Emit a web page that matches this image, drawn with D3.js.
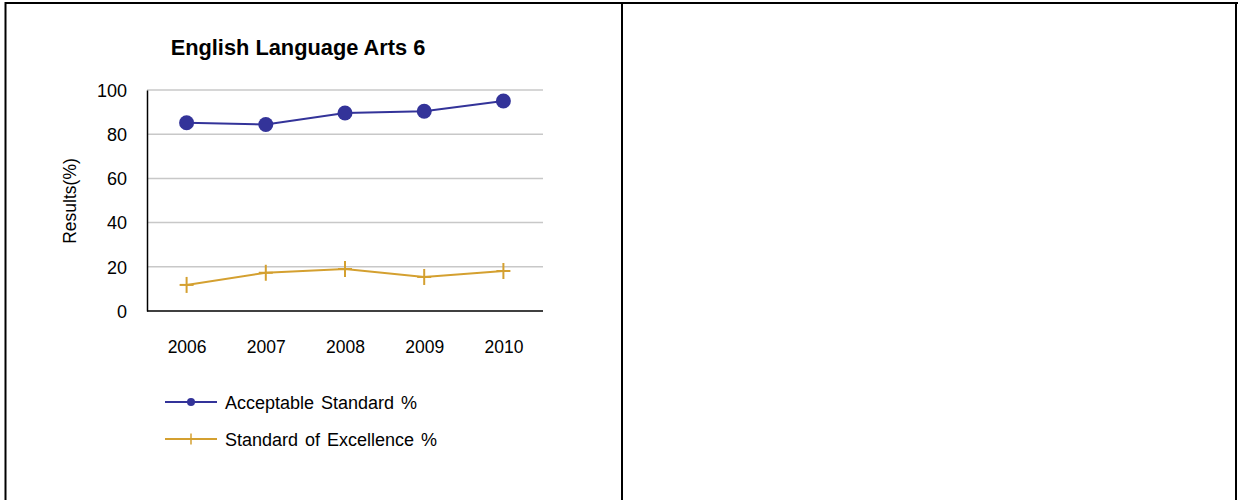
<!DOCTYPE html>
<html><head><meta charset="utf-8">
<script src="https://cdn.jsdelivr.net/npm/d3@7"></script>
<style>
body{margin:0;background:#fff;}
svg{display:block;font-family:"Liberation Sans",Arial,sans-serif;}
</style></head>
<body>
<svg id="c" width="1238" height="500"></svg>
<script>
const title = "English Language Arts 6";
const yLabel = "Results(%)";
const years = ["2006","2007","2008","2009","2010"];
const acceptable = [85.2, 84.4, 89.6, 90.4, 95.0];
const excellence = [11.8, 17.3, 19.0, 15.4, 18.1];
const yTicks = [0,20,40,60,80,100];
const seriesNames = ["Acceptable Standard %","Standard of Excellence %"];
const colors = ["#333399","#D4A030"];

const svg = d3.select("#c");
// table frame
svg.append("line").attr("x1",5).attr("x2",1238).attr("y1",3).attr("y2",3).attr("stroke","#000").attr("stroke-width",2);
svg.append("line").attr("x1",5.5).attr("x2",5.5).attr("y1",2).attr("y2",500).attr("stroke","#000").attr("stroke-width",2);
svg.append("line").attr("x1",622).attr("x2",622).attr("y1",2).attr("y2",500).attr("stroke","#000").attr("stroke-width",2);
svg.append("line").attr("x1",1236).attr("x2",1236).attr("y1",2).attr("y2",500).attr("stroke","#000").attr("stroke-width",2);

const L=147, R=543, T=90, B=311;
const x = d3.scalePoint().domain(years).range([L,R]).padding(0.5);
const y = d3.scaleLinear().domain([0,100]).range([B,T]);

// title
svg.append("text").attr("x",298).attr("y",55).attr("text-anchor","middle")
  .attr("font-size",21.8).attr("font-weight","bold").attr("fill","#000").text(title);

// gridlines
svg.append("g").selectAll("line").data(yTicks.filter(d=>d>0)).join("line")
  .attr("x1",L).attr("x2",R).attr("y1",d=>y(d)).attr("y2",d=>y(d))
  .attr("stroke","#c8c8c8").attr("stroke-width",1.5);

// y axis
const ya = svg.append("g").attr("transform",`translate(${L},0)`)
  .call(d3.axisLeft(y).tickValues(yTicks).tickSize(0).tickPadding(20));
ya.select(".domain").attr("stroke","#000").attr("stroke-width",1.5);
ya.selectAll("text").attr("font-size",18).attr("fill","#000").attr("font-family","Liberation Sans, Arial, sans-serif").attr("dy","0.35em");

// x axis
const xa = svg.append("g").attr("transform",`translate(0,${B})`)
  .call(d3.axisBottom(x).tickSize(0).tickPadding(30));
xa.select(".domain").attr("stroke","#000").attr("stroke-width",1.5).attr("d",`M${L},0H${R}`);
xa.selectAll("text").attr("font-size",17.5).attr("fill","#000").attr("font-family","Liberation Sans, Arial, sans-serif");

// y label
svg.append("text").attr("transform","translate(76,201) rotate(-90)").attr("text-anchor","middle")
  .attr("font-size",17.5).attr("fill","#000").text(yLabel);

const line = d3.line().x((d,i)=>x(years[i])).y(d=>y(d));
svg.append("path").datum(acceptable).attr("d",line).attr("fill","none").attr("stroke",colors[0]).attr("stroke-width",2);
svg.append("path").datum(excellence).attr("d",line).attr("fill","none").attr("stroke",colors[1]).attr("stroke-width",2);

svg.append("g").selectAll("circle").data(acceptable).join("circle")
  .attr("cx",(d,i)=>x(years[i])).attr("cy",d=>y(d)).attr("r",7.5).attr("fill",colors[0]);

const crossG = svg.append("g").selectAll("g").data(excellence).join("g")
  .attr("transform",(d,i)=>`translate(${x(years[i])},${y(d)})`);
crossG.append("line").attr("x1",-7).attr("x2",7).attr("y1",0).attr("y2",0).attr("stroke",colors[1]).attr("stroke-width",2);
crossG.append("line").attr("x1",0).attr("x2",0).attr("y1",-8).attr("y2",8).attr("stroke",colors[1]).attr("stroke-width",2);

// legend
const lg = svg.append("g");
const legY = [403, 440];
seriesNames.forEach((n,i)=>{
  const g = lg.append("g").attr("transform",`translate(0,${legY[i]})`);
  g.append("line").attr("x1",165).attr("x2",217).attr("y1",-1).attr("y2",-1).attr("stroke",colors[i]).attr("stroke-width",2);
  if(i===0) g.append("circle").attr("cx",191).attr("cy",-1).attr("r",4).attr("fill",colors[0]);
  else g.append("line").attr("x1",191).attr("x2",191).attr("y1",-6.5).attr("y2",4.5).attr("stroke",colors[1]).attr("stroke-width",1.5);
  g.append("text").attr("x",225).attr("y",0).attr("dy","0.35em").attr("font-size",18).attr("word-spacing",2).attr("fill","#000").text(n);
});
</script>
</body></html>
